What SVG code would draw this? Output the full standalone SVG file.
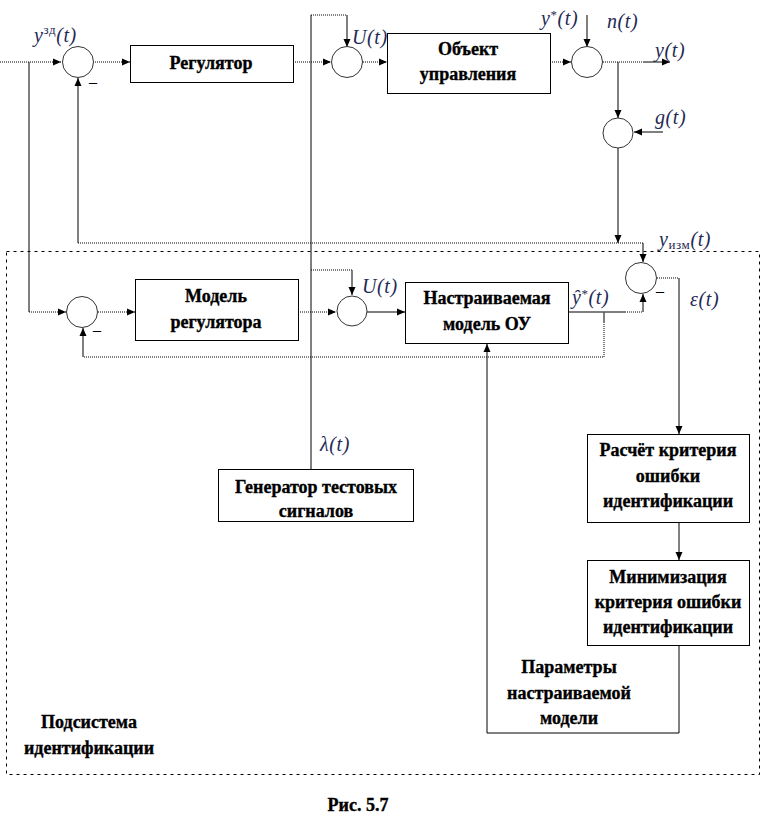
<svg xmlns="http://www.w3.org/2000/svg" width="762" height="834" viewBox="0 0 762 834">
<style>
.bg{fill:#fff}
.box{fill:#fff;stroke:#000;stroke-width:1}
.sum{fill:#fff;stroke:#333;stroke-width:1}
.s{fill:none;stroke:#000;stroke-width:1}
.g{fill:none;stroke:#555;stroke-width:1.5}
.d{fill:none;stroke:#000;stroke-width:1;stroke-dasharray:1,1}
.frame{fill:none;stroke:#000;stroke-width:1;stroke-dasharray:3,4}
.t{font-family:'Liberation Serif','Times New Roman',serif;font-weight:bold;font-size:18px;fill:#000;stroke:#000;stroke-width:0.35;text-anchor:middle}
.m{font-family:'Liberation Serif','Times New Roman',serif;font-style:italic;font-size:20px;letter-spacing:0.6px;fill:#1f2a55}
.minus{font-family:'Liberation Serif','Times New Roman',serif;font-size:16px;fill:#000}
</style>
<defs>
<marker id="a" markerUnits="userSpaceOnUse" markerWidth="8" markerHeight="8" refX="8" refY="4" orient="auto">
<path d="M0,0.5 L8,4 L0,7.5 z" fill="#000"/>
</marker>
</defs>
<rect class="bg" x="0" y="0" width="762" height="834"/>

<rect id="subsystem-frame" class="frame" x="6.5" y="251.5" width="753" height="523"/>

<g id="connectors">
  <line class="d" x1="0" y1="62" x2="61" y2="62" marker-end="url(#a)"/>
  <polyline class="s" points="29,62 29,312"/>
  <line class="d" x1="29" y1="312" x2="66" y2="312" marker-end="url(#a)"/>
  <line class="d" x1="93" y1="62" x2="130" y2="62" marker-end="url(#a)"/>
  <line class="d" x1="293" y1="62" x2="331" y2="62" marker-end="url(#a)"/>
  <line class="d" x1="363" y1="62" x2="387" y2="62" marker-end="url(#a)"/>
  <line class="d" x1="550" y1="62" x2="571" y2="62" marker-end="url(#a)"/>
  <line class="s" x1="587" y1="15" x2="587" y2="47" marker-end="url(#a)"/>
  <line class="d" x1="603" y1="62" x2="643" y2="62"/>
  <line class="s" x1="643" y1="62" x2="670" y2="62" marker-end="url(#a)"/>
  <line class="s" x1="618" y1="62" x2="618" y2="118" marker-end="url(#a)"/>
  <line class="s" x1="663" y1="132" x2="634" y2="132" marker-end="url(#a)"/>
  <line class="s" x1="618" y1="148" x2="618" y2="243" marker-end="url(#a)"/>
  <line class="s" x1="311" y1="469" x2="311" y2="15"/>
  <line class="d" x1="311" y1="15" x2="347" y2="15"/>
  <line class="s" x1="347" y1="15" x2="347" y2="47" marker-end="url(#a)"/>
  <line class="d" x1="311" y1="270" x2="352" y2="270"/>
  <line class="g" x1="352" y1="270" x2="352" y2="295" marker-end="url(#a)"/>
  <line class="s" x1="78" y1="243" x2="78" y2="78" marker-end="url(#a)"/>
  <line class="d" x1="78" y1="243" x2="643" y2="243"/>
  <line class="s" x1="643" y1="243" x2="643" y2="262" marker-end="url(#a)"/>
  <line class="d" x1="98" y1="312" x2="135" y2="312" marker-end="url(#a)"/>
  <line class="d" x1="298" y1="312" x2="336" y2="312" marker-end="url(#a)"/>
  <line class="g" x1="367" y1="312" x2="405" y2="312" marker-end="url(#a)"/>
  <line class="g" x1="569" y1="312" x2="625" y2="312"/>
  <line class="d" x1="625" y1="312" x2="643" y2="312"/>
  <line class="s" x1="643" y1="312" x2="643" y2="294" marker-end="url(#a)"/>
  <line class="g" x1="604" y1="312" x2="604" y2="322"/>
  <polyline class="d" points="604,322 604,357 83,357"/>
  <line class="s" x1="83" y1="357" x2="83" y2="328" marker-end="url(#a)"/>
  <line class="d" x1="657" y1="278" x2="679" y2="278"/>
  <line class="s" x1="679" y1="278" x2="679" y2="434" marker-end="url(#a)"/>
  <line class="s" x1="679" y1="522" x2="679" y2="560" marker-end="url(#a)"/>
  <polyline class="s" points="679,645 679,733 487,733 487,344" marker-end="url(#a)"/>
</g>

<g id="sum1"><circle class="sum" cx="78" cy="62" r="15.5"/><text class="minus" x="89" y="87">–</text></g>
<g id="sum2"><circle class="sum" cx="347" cy="62" r="15.5"/></g>
<g id="sum3"><circle class="sum" cx="587" cy="62" r="15.5"/></g>
<g id="sum4"><circle class="sum" cx="618" cy="133" r="15"/></g>
<g id="sum5"><circle class="sum" cx="641" cy="278" r="15.5"/><text class="minus" x="656" y="296">–</text></g>
<g id="sum6"><circle class="sum" cx="82" cy="312" r="15.5"/><text class="minus" x="93" y="335">–</text></g>
<g id="sum7"><circle class="sum" cx="352" cy="311" r="15"/></g>

<g id="regulator"><rect class="box" x="130.5" y="45.5" width="163" height="37"/><text class="t" x="211" y="69">Регулятор</text></g>
<g id="plant"><rect class="box" x="387.5" y="33.5" width="163" height="60"/><text class="t" x="468" y="55">Объект</text><text class="t" x="468" y="80">управления</text></g>
<g id="regulator-model"><rect class="box" x="135.5" y="279.5" width="163" height="61"/><text class="t" x="216" y="302">Модель</text><text class="t" x="216" y="328">регулятора</text></g>
<g id="tunable-model"><rect class="box" x="405.5" y="282.5" width="163" height="61"/><text class="t" x="487" y="304">Настраиваемая</text><text class="t" x="487" y="330">модель ОУ</text></g>
<g id="generator"><rect class="box" x="218.5" y="469.5" width="195" height="52"/><text class="t" x="316" y="493">Генератор тестовых</text><text class="t" x="316" y="517">сигналов</text></g>
<g id="criterion"><rect class="box" x="587.5" y="434.5" width="162" height="88"/><text class="t" x="668" y="456">Расчёт критерия</text><text class="t" x="668" y="482">ошибки</text><text class="t" x="668" y="507">идентификации</text></g>
<g id="minimization"><rect class="box" x="587.5" y="560.5" width="162" height="85"/><text class="t" x="668" y="583">Минимизация</text><text class="t" x="668" y="608">критерия ошибки</text><text class="t" x="668" y="633">идентификации</text></g>

<g id="labels">
  <text class="m" x="34" y="42">y<tspan font-size="13" dy="-8" font-style="normal">зд</tspan><tspan dy="8">(t)</tspan></text>
  <text class="m" x="352" y="44">U(t)</text>
  <text class="m" x="541" y="25">y<tspan font-size="13" dy="-6" font-style="normal">*</tspan><tspan dy="6">(t)</tspan></text>
  <text class="m" x="607" y="28">n(t)</text>
  <text class="m" x="655" y="57">y(t)</text>
  <text class="m" x="655" y="124">g(t)</text>
  <text class="m" x="659" y="246">y<tspan font-size="13" dy="3" font-style="normal">изм</tspan><tspan dy="-3">(t)</tspan></text>
  <text class="m" x="362" y="293">U(t)</text>
  <text class="m" x="572" y="304">ŷ<tspan font-size="13" dy="-6" font-style="normal">*</tspan><tspan dy="6">(t)</tspan></text>
  <text class="m" x="690" y="306">ε(t)</text>
  <text class="m" x="320" y="451">λ(t)</text>
  <text class="t" x="569" y="673">Параметры</text>
  <text class="t" x="569" y="699">настраиваемой</text>
  <text class="t" x="569" y="724">модели</text>
  <text class="t" x="89" y="728">Подсистема</text>
  <text class="t" x="89" y="754">идентификации</text>
  <text class="t" x="358" y="811">Рис. 5.7</text>
</g>
</svg>
